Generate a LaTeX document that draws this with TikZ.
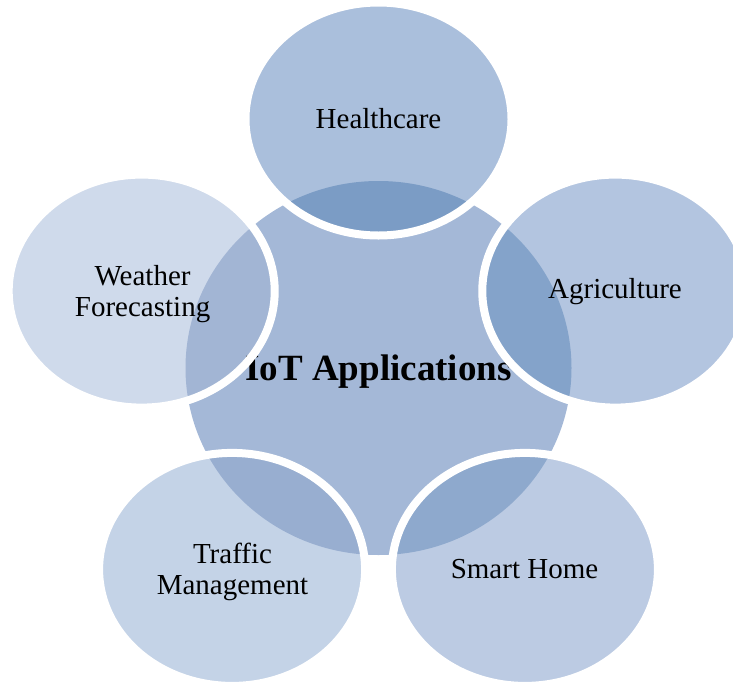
\documentclass[tikz,border=0pt]{standalone}
\usepackage{fontspec}
\setmainfont{Liberation Serif}
\definecolor{cCenter}{HTML}{A4B8D7}
\definecolor{hcLone}{HTML}{AABFDC}
\definecolor{hcOv}{HTML}{7B9CC5}
\definecolor{agLone}{HTML}{B3C5E0}
\definecolor{agOv}{HTML}{84A3CA}
\definecolor{smLone}{HTML}{BCCBE3}
\definecolor{smOv}{HTML}{8EA9CD}
\definecolor{trLone}{HTML}{C4D3E7}
\definecolor{trOv}{HTML}{98AED0}
\definecolor{weLone}{HTML}{CFDAEB}
\definecolor{weOv}{HTML}{A2B5D4}
\tikzset{
  lbl/.style={align=center, text=black, inner sep=0pt, font=\fontsize{29}{31}\selectfont},
  hub/.style={inner sep=0pt, text=black, font=\bfseries\fontsize{37}{40}\selectfont},
  outline/.style={draw=white, line width=8pt},
}
\newcommand{\orx}{133}
\newcommand{\ory}{116.5}
\begin{document}
\begin{tikzpicture}[x=1pt,y=-1pt]
\useasboundingbox (0,0) rectangle (733,683);
\coordinate (C) at (378.5,368);
\coordinate (H) at (378.5,119);
\coordinate (A) at (615.3,291.1);
\coordinate (S) at (524.9,569.4);
\coordinate (T) at (232.1,569.4);
\coordinate (W) at (141.7,291.1);
% central ellipse
\fill[cCenter] (C) ellipse [x radius=193, y radius=187];
% outer ellipses: lone fill and overlap fill
\foreach \p/\lc/\oc in {H/hcLone/hcOv, A/agLone/agOv, S/smLone/smOv, T/trLone/trOv, W/weLone/weOv}{
  \fill[\lc] (\p) ellipse [x radius=\orx, y radius=\ory];
  \begin{scope}
    \clip (C) ellipse [x radius=193, y radius=187];
    \fill[\oc] (\p) ellipse [x radius=\orx, y radius=\ory];
  \end{scope}
}
% texts
\node[hub] (hubtext) at (378.5,372) {IoT Applications};
\node[lbl] (health) at (378.5,119) {Healthcare};
\node[lbl] (agri) at (615,292) {Agriculture};
\node[lbl] (smart) at (524.5,569) {Smart Home};
\node[lbl] (traffic) at (232.5,572) {Traffic\\Management};
\node[lbl] (weather) at (142.6,294) {Weather\\Forecasting};
% white outlines on top
\foreach \p in {H,A,S,T,W}{
  \draw[outline] (\p) ellipse [x radius=\orx, y radius=\ory];
}
\end{tikzpicture}
\end{document}
